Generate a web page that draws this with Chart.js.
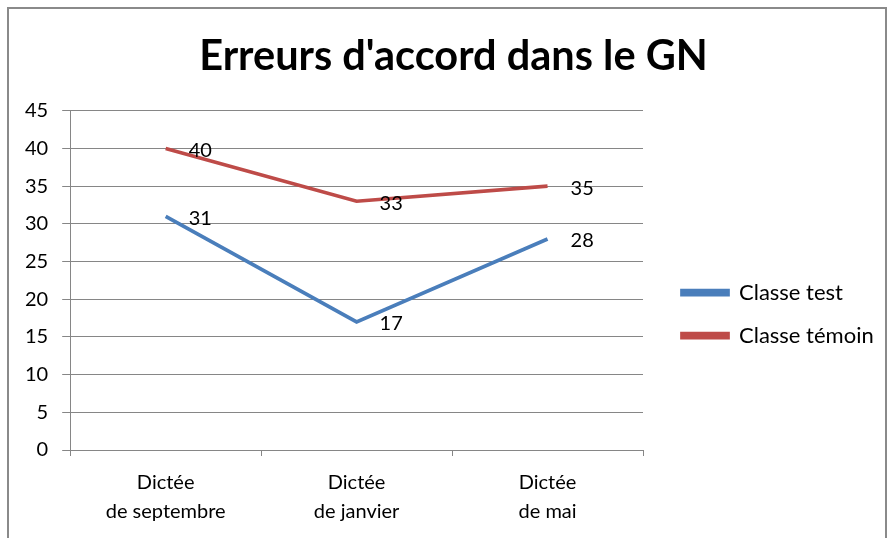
<!DOCTYPE html>
<html>
<head>
<meta charset="utf-8">
<script src="https://cdn.jsdelivr.net/npm/chart.js@4/dist/chart.umd.min.js"></script>
<style>
html,body{margin:0;padding:0;background:#fff;}
#wrap{position:relative;width:890px;height:538px;}
</style>
</head>
<body>
<div id="wrap"><canvas id="c" width="890" height="538"></canvas></div>
<script>
const chartTitle = "Erreurs d'accord dans le GN";
const categories = [["Dictée","de septembre"],["Dictée","de janvier"],["Dictée","de mai"]];
const seriesNames = ["Classe test","Classe témoin"];
const classeTest = [31, 17, 28];
const classeTemoin = [40, 33, 35];
const yTicks = [0,5,10,15,20,25,30,35,40,45];

const FONT = "Lato, 'Open Sans', sans-serif";
const BLUE = "#4A7EBB";
const RED = "#BE4B48";
const GRID = "#868686";

const framePlugin = {
  id: 'frame',
  beforeDraw(chart){
    const ctx = chart.ctx;
    ctx.save();
    ctx.fillStyle = '#fff';
    ctx.fillRect(0,0,chart.width,chart.height);
    ctx.strokeStyle = '#8a8a8a';
    ctx.lineWidth = 2;
    ctx.strokeRect(8,8,878,545);
    ctx.restore();
  }
};

// centre the title over the whole picture and let the legend use the room on its right
const boxTweakPlugin = {
  id: 'boxTweak',
  afterLayout(chart){
    const t = chart.titleBlock;
    if (t) { t.left = 17; t.right = chart.width; t.width = t.right - t.left; }
    const l = chart.legend;
    if (l) { l.right = chart.width; l.width = l.right - l.left; }
  }
};

const labelPlugin = {
  id: 'valueLabels',
  afterDatasetsDraw(chart){
    const ctx = chart.ctx;
    ctx.save();
    ctx.font = "20px " + FONT;
    ctx.fillStyle = '#000';
    ctx.textAlign = 'left';
    ctx.textBaseline = 'middle';
    chart.data.datasets.forEach((ds, i) => {
      const meta = chart.getDatasetMeta(i);
      meta.data.forEach((pt, j) => {
        ctx.fillText(String(ds.data[j]), pt.x + 23, pt.y + 2);
      });
    });
    ctx.restore();
  }
};

new Chart(document.getElementById('c'), {
  type: 'line',
  data: {
    labels: categories,
    datasets: [
      {label: seriesNames[0], data: classeTest, borderColor: BLUE, backgroundColor: BLUE, borderWidth: 3.7, pointRadius: 0, tension: 0},
      {label: seriesNames[1], data: classeTemoin, borderColor: RED, backgroundColor: RED, borderWidth: 3.7, pointRadius: 0, tension: 0}
    ]
  },
  options: {
    responsive: false,
    animation: false,
    devicePixelRatio: 1,
    layout: {padding: {left: 11, right: 99, top: 10, bottom: 0}},
    plugins: {
      title: {
        display: true,
        text: chartTitle,
        color: '#000',
        font: {family: FONT, size: 41.5, weight: 'bold'},
        padding: {top: 22, bottom: 29}
      },
      legend: {
        position: 'right',
        title: {display: true, text: ' ', font: {size: 12}, padding: {top: 66, bottom: 0}},
        labels: {
          color: '#000',
          font: {family: FONT, size: 22},
          boxWidth: 46,
          boxHeight: 4,
          padding: 21
        }
      },
      tooltip: {enabled: false}
    },
    scales: {
      x: {
        offset: true,
        grid: {offset: true, drawOnChartArea: false, drawTicks: true, tickLength: 6, color: GRID},
        border: {color: GRID, width: 1},
        ticks: {color: '#000', font: {family: FONT, size: 20, lineHeight: 1.45}, padding: 12, maxRotation: 0}
      },
      y: {
        min: 0, max: 45,
        afterBuildTicks(scale){ scale.ticks = yTicks.map(v => ({value: v})); },
        grid: {color: GRID, tickLength: 8},
        border: {color: GRID, width: 1},
        ticks: {color: '#000', font: {family: FONT, size: 20}, padding: 14}
      },
      gap: {
        position: 'right',
        display: true,
        grid: {display: false},
        border: {display: false},
        ticks: {display: false},
        afterFit(scale){ scale.width = 18; }
      }
    }
  },
  plugins: [framePlugin, boxTweakPlugin, labelPlugin]
});
</script>
</body>
</html>
